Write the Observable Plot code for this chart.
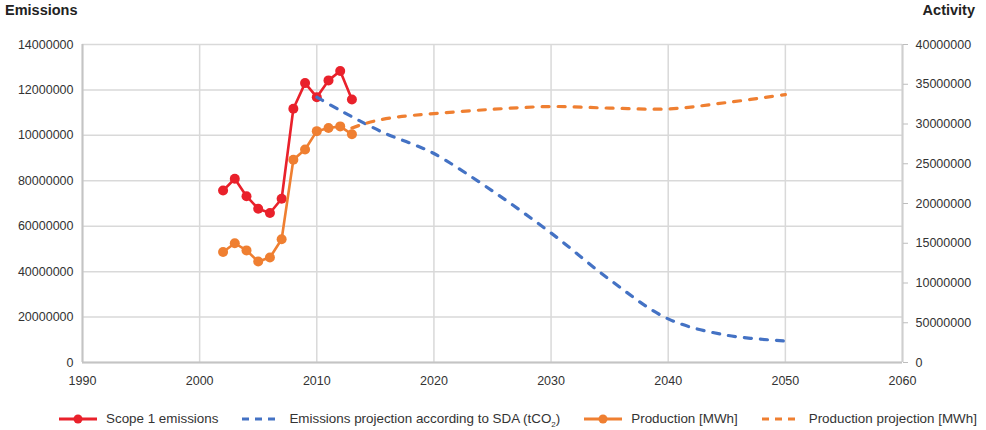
<!DOCTYPE html>
<html><head><meta charset="utf-8">
<script src="https://cdn.jsdelivr.net/npm/d3@7"></script>
<script src="https://cdn.jsdelivr.net/npm/@observablehq/plot@0.6"></script>
<style>
body{margin:0;background:#fff;font-family:"Liberation Sans",Arial,sans-serif;}
#wrap{width:986px;position:relative;}
.hdr{display:flex;justify-content:space-between;height:22px;font-weight:bold;font-size:14.5px;color:#222;padding:2px 11px 0 5px;box-sizing:border-box;}
.legend{display:flex;align-items:center;height:28px;padding-left:57px;padding-top:5px;box-sizing:border-box;font-size:13.4px;color:#333;white-space:nowrap;width:986px;}
.item{display:flex;align-items:center;margin-right:22px;flex-shrink:0;white-space:nowrap;}
.item svg{margin-right:7px;flex-shrink:0;}
svg{overflow:visible;}
</style></head>
<body>
<div id="wrap">
  <div class="hdr"><span>Emissions</span><span>Activity</span></div>
  <div id="chart"></div>
  <div class="legend" id="legend"></div>
</div>
<script>
// ---- data ----
const scopeYears = [2002,2003,2004,2005,2006,2007,2008,2009,2010,2011,2012,2013];
const scopeValues = [7.57,8.09,7.32,6.77,6.58,7.21,11.17,12.30,11.68,12.42,12.83,11.58];
const prodYears = [2002,2003,2004,2005,2006,2007,2008,2009,2010,2011,2012,2013];
const prodValues = [13.9,15.0,14.1,12.7,13.2,15.5,25.5,26.8,29.1,29.5,29.7,28.7];
const sdaYears = [2010,2012,2014,2016,2018,2020,2025,2030,2035,2040,2045,2050];
const sdaValues = [11.68,11.1,10.55,10.05,9.65,9.2,7.55,5.7,3.65,1.92,1.2,0.95];
const projYears = [2013,2014,2015,2017,2020,2025,2030,2035,2040,2045,2050];
const projValues = [29.5,30.0,30.4,30.9,31.3,31.85,32.2,32.0,31.9,32.7,33.7];
const xTicks = [1990,2000,2010,2020,2030,2040,2050,2060];
const leftTicks = [0,2,4,6,8,10,12,14];
const leftLabels = ["0","20000000","40000000","60000000","80000000","10000000","12000000","14000000"];
const rightTicks = [0,5,10,15,20,25,30,35,40];
const rightLabels = ["0","50000000","10000000","15000000","20000000","25000000","30000000","35000000","40000000"];
const legendNames = ["Scope 1 emissions","Emissions projection according to SDA (tCO\u2082)","Production [MWh]","Production projection [MWh]"];

// ---- styles ----
const RED="#e9212b", BLUE="#4472c4", ORANGE="#ef7f31", GRID="#d9d9d9";
const k = leftTicks[leftTicks.length-1] / rightTicks[rightTicks.length-1]; // right-axis to left-axis ratio

const scope = scopeYears.map((y,i)=>({year:y, v:scopeValues[i]}));
const prod = prodYears.map((y,i)=>({year:y, v:prodValues[i]*k}));
const sda = sdaYears.map((y,i)=>({year:y, v:sdaValues[i]}));
const proj = projYears.map((y,i)=>({year:y, v:projValues[i]*k}));

const leftMap = new Map(leftTicks.map((t,i)=>[t,leftLabels[i]]));
const rightPos = rightTicks.map(t=>t*k);
const rightMap = new Map(rightPos.map((t,i)=>[t,rightLabels[i]]));

const chart = Plot.plot({
  width:986, height:380,
  marginTop:22, marginBottom:40, marginLeft:82, marginRight:84,
  x:{domain:[xTicks[0], xTicks[xTicks.length-1]]},
  y:{domain:[leftTicks[0], leftTicks[leftTicks.length-1]]},
  style:{fontFamily:'"Liberation Sans",Arial,sans-serif', fontSize:"12.5px", color:"#333", background:"#fff"},
  marks:[
    Plot.gridY(leftTicks,{stroke:GRID, strokeOpacity:1, strokeWidth:1.5}),
    Plot.gridX(xTicks,{stroke:GRID, strokeOpacity:1, strokeWidth:1.5}),
    Plot.ruleY([leftTicks[0]],{stroke:"#c4c4c4", strokeWidth:2.2}),
    Plot.ruleX([xTicks[0]],{stroke:"#c4c4c4", strokeWidth:2}),
    Plot.ruleX([xTicks[xTicks.length-1]],{stroke:"#cfcfcf", strokeWidth:2}),
    Plot.axisY(leftTicks,{anchor:"left", tickSize:0, tickPadding:9, tickFormat:d=>leftMap.get(d), label:null}),
    Plot.axisY(rightPos,{anchor:"right", tickSize:5, tickPadding:8, stroke:"#bdbdbd", tickFormat:d=>rightMap.get(d), label:null}),
    Plot.axisX(xTicks,{anchor:"bottom", tickSize:0, tickPadding:14, tickFormat:d=>String(d), label:null}),
    Plot.line(scope,{x:"year", y:"v", stroke:RED, strokeWidth:2.6}),
    Plot.dot(scope,{x:"year", y:"v", r:5, fill:RED}),
    Plot.line(sda,{x:"year", y:"v", stroke:BLUE, strokeWidth:3.2, strokeDasharray:"7,9", strokeLinecap:"round", curve:"catmull-rom"}),
    Plot.line(prod,{x:"year", y:"v", stroke:ORANGE, strokeWidth:2.6}),
    Plot.dot(prod,{x:"year", y:"v", r:5, fill:ORANGE}),
    Plot.line(proj,{x:"year", y:"v", stroke:ORANGE, strokeWidth:3.2, strokeDasharray:"7,9", strokeLinecap:"round", curve:"catmull-rom"})
  ]
});
document.getElementById("chart").appendChild(chart);

// ---- legend ----
const legendStyles = [
  {color:RED, dash:null, marker:true},
  {color:BLUE, dash:"7,6", marker:false},
  {color:ORANGE, dash:null, marker:true},
  {color:ORANGE, dash:"7,6", marker:false}
];
const leg = document.getElementById("legend");
legendNames.forEach((name,i)=>{
  const s = legendStyles[i];
  const it = document.createElement("div"); it.className="item";
  const ns="http://www.w3.org/2000/svg";
  const sv=document.createElementNS(ns,"svg"); sv.setAttribute("width","42"); sv.setAttribute("height","12");
  const ln=document.createElementNS(ns,"line");
  ln.setAttribute("x1","2"); ln.setAttribute("x2","40"); ln.setAttribute("y1","6"); ln.setAttribute("y2","6");
  ln.setAttribute("stroke",s.color); ln.setAttribute("stroke-width","3.2");
  if(s.dash){ln.setAttribute("stroke-dasharray",s.dash);}
  sv.appendChild(ln);
  if(s.marker){const c=document.createElementNS(ns,"circle"); c.setAttribute("cx","21"); c.setAttribute("cy","6"); c.setAttribute("r","4.5"); c.setAttribute("fill",s.color); sv.appendChild(c);}
  it.appendChild(sv);
  const t=document.createElement("span");
  if(name.includes("\u2082")){
    const parts=name.split("\u2082");
    t.innerHTML = parts[0]+'<sub style="font-size:8px;line-height:0">2</sub>'+parts[1];
  } else t.textContent=name;
  it.appendChild(t);
  leg.appendChild(it);
});
</script>
</body></html>
